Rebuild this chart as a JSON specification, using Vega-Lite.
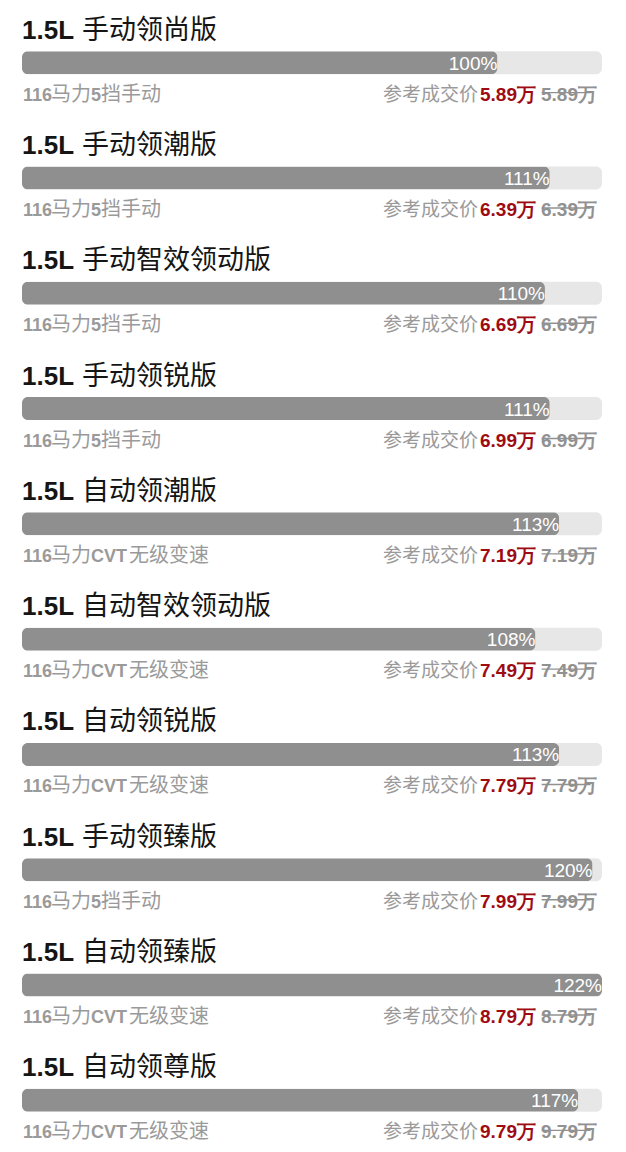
{
  "$schema": "https://vega.github.io/schema/vega-lite/v6.json",
  "width": 580,
  "height": 1146,
  "autosize": "none",
  "padding": {"left": 22, "top": 5, "right": 24, "bottom": 0},
  "background": "#ffffff",
  "data": {
    "values": [
      {"disp": "1.5L", "model": "手动领尚版", "pct": 100, "hp": "116", "hpUnit": "马力", "gear": "5", "gearUnit": "挡手动", "price": "5.89万", "orig": "5.89万"},
      {"disp": "1.5L", "model": "手动领潮版", "pct": 111, "hp": "116", "hpUnit": "马力", "gear": "5", "gearUnit": "挡手动", "price": "6.39万", "orig": "6.39万"},
      {"disp": "1.5L", "model": "手动智效领动版", "pct": 110, "hp": "116", "hpUnit": "马力", "gear": "5", "gearUnit": "挡手动", "price": "6.69万", "orig": "6.69万"},
      {"disp": "1.5L", "model": "手动领锐版", "pct": 111, "hp": "116", "hpUnit": "马力", "gear": "5", "gearUnit": "挡手动", "price": "6.99万", "orig": "6.99万"},
      {"disp": "1.5L", "model": "自动领潮版", "pct": 113, "hp": "116", "hpUnit": "马力", "gear": "CVT", "gearUnit": "无级变速", "price": "7.19万", "orig": "7.19万"},
      {"disp": "1.5L", "model": "自动智效领动版", "pct": 108, "hp": "116", "hpUnit": "马力", "gear": "CVT", "gearUnit": "无级变速", "price": "7.49万", "orig": "7.49万"},
      {"disp": "1.5L", "model": "自动领锐版", "pct": 113, "hp": "116", "hpUnit": "马力", "gear": "CVT", "gearUnit": "无级变速", "price": "7.79万", "orig": "7.79万"},
      {"disp": "1.5L", "model": "手动领臻版", "pct": 120, "hp": "116", "hpUnit": "马力", "gear": "5", "gearUnit": "挡手动", "price": "7.99万", "orig": "7.99万"},
      {"disp": "1.5L", "model": "自动领臻版", "pct": 122, "hp": "116", "hpUnit": "马力", "gear": "CVT", "gearUnit": "无级变速", "price": "8.79万", "orig": "8.79万"},
      {"disp": "1.5L", "model": "自动领尊版", "pct": 117, "hp": "116", "hpUnit": "马力", "gear": "CVT", "gearUnit": "无级变速", "price": "9.79万", "orig": "9.79万"}
    ]
  },
  "transform": [
    {"calculate": "format(datum.pct, 'd') + '%'", "as": "pctLabel"}
  ],
  "encoding": {
    "y": {
      "field": "model",
      "type": "nominal",
      "sort": null,
      "axis": null,
      "scale": {"range": [0, 1153], "paddingInner": 0, "paddingOuter": 0}
    }
  },
  "layer": [
    {
      "mark": {"type": "bar", "size": 23, "cornerRadius": 6, "color": "#e7e7e7"},
      "encoding": {
        "x": {"datum": 122, "type": "quantitative", "scale": {"domain": [0, 122], "nice": false, "zero": true}, "axis": null}
      }
    },
    {
      "mark": {"type": "bar", "size": 23, "cornerRadius": 6, "color": "#8f8f8f"},
      "encoding": {
        "x": {"field": "pct", "type": "quantitative", "axis": null}
      }
    },
    {
      "mark": {"type": "text", "align": "right", "baseline": "alphabetic", "dx": 0, "dy": 7, "font": "Liberation Sans", "fontSize": 19, "color": "#ffffff"},
      "encoding": {
        "x": {"field": "pct", "type": "quantitative"},
        "text": {"field": "pctLabel"}
      }
    },
    {
      "mark": {"type": "text", "align": "left", "baseline": "alphabetic", "dy": -24, "font": "Liberation Sans", "fontWeight": "bold", "fontSize": 26, "color": "#151515"},
      "encoding": {
        "x": {"datum": 0, "type": "quantitative"},
        "text": {"field": "disp"}
      }
    },
    {
      "mark": {"type": "text", "align": "left", "baseline": "alphabetic", "dx": 60, "dy": -24, "font": "Noto Sans CJK SC", "fontSize": 27, "color": "#151515"},
      "encoding": {
        "x": {"datum": 0, "type": "quantitative"},
        "text": {"field": "model"}
      }
    },
    {
      "mark": {"type": "text", "align": "left", "baseline": "alphabetic", "dx": 1, "dy": 38, "font": "Liberation Sans", "fontWeight": "bold", "fontSize": 18, "color": "#9a9a9a"},
      "encoding": {
        "x": {"datum": 0, "type": "quantitative"},
        "text": {"field": "hp"}
      }
    },
    {
      "mark": {"type": "text", "align": "left", "baseline": "alphabetic", "dx": 29, "dy": 38, "font": "Noto Sans CJK SC", "fontSize": 20, "color": "#9a9a9a"},
      "encoding": {
        "x": {"datum": 0, "type": "quantitative"},
        "text": {"field": "hpUnit"}
      }
    },
    {
      "mark": {"type": "text", "align": "left", "baseline": "alphabetic", "dx": 69, "dy": 38, "font": "Liberation Sans", "fontWeight": "bold", "fontSize": 18, "color": "#9a9a9a"},
      "encoding": {
        "x": {"datum": 0, "type": "quantitative"},
        "text": {"field": "gear"}
      }
    },
    {
      "transform": [{"filter": "datum.gear == '5'"}],
      "mark": {"type": "text", "align": "left", "baseline": "alphabetic", "dx": 79, "dy": 38, "font": "Noto Sans CJK SC", "fontSize": 20, "color": "#9a9a9a"},
      "encoding": {
        "x": {"datum": 0, "type": "quantitative"},
        "text": {"field": "gearUnit"}
      }
    },
    {
      "transform": [{"filter": "datum.gear == 'CVT'"}],
      "mark": {"type": "text", "align": "left", "baseline": "alphabetic", "dx": 107, "dy": 38, "font": "Noto Sans CJK SC", "fontSize": 20, "color": "#9a9a9a"},
      "encoding": {
        "x": {"datum": 0, "type": "quantitative"},
        "text": {"field": "gearUnit"}
      }
    },
    {
      "mark": {"type": "text", "align": "right", "baseline": "alphabetic", "dx": -124, "dy": 38, "font": "Noto Sans CJK SC", "fontSize": 19, "color": "#9a9a9a"},
      "encoding": {
        "x": {"datum": 122, "type": "quantitative"},
        "text": {"value": "参考成交价"}
      }
    },
    {
      "mark": {"type": "text", "align": "right", "baseline": "alphabetic", "dx": -66, "dy": 38, "font": "Liberation Sans", "fontWeight": "bold", "fontSize": 19, "color": "#9e0b12"},
      "encoding": {
        "x": {"datum": 122, "type": "quantitative"},
        "text": {"field": "price"}
      }
    },
    {
      "mark": {"type": "text", "align": "right", "baseline": "alphabetic", "dx": -5, "dy": 38, "font": "Liberation Sans", "fontWeight": "bold", "fontSize": 19, "color": "#919191"},
      "encoding": {
        "x": {"datum": 122, "type": "quantitative"},
        "text": {"field": "orig"}
      }
    },
    {
      "mark": {"type": "rule", "color": "#919191", "strokeWidth": 1.4},
      "encoding": {
        "x": {"datum": 109.3, "type": "quantitative"},
        "x2": {"datum": 119.6},
        "y": {"field": "model", "type": "nominal", "sort": null, "bandPosition": 0.76}
      }
    }
  ],
  "config": {
    "view": {"stroke": null}
  }
}
